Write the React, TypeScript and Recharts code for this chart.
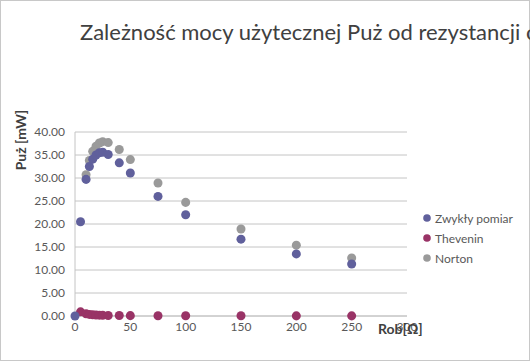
import React from "react";
import { ScatterChart, Scatter, XAxis, YAxis, CartesianGrid, ZAxis } from "recharts";

const resistance = [0, 5, 10, 13, 16, 19, 22, 25, 30, 40, 50, 75, 100, 150, 200, 250];
const zwykly = [0, 20.5, 29.7, 32.5, 34.1, 35.0, 35.5, 35.6, 35.1, 33.3, 31.1, 26.0, 22.0, 16.7, 13.5, 11.3];
const thevenin = [null, 0.9, 0.5, 0.35, 0.25, 0.2, 0.18, 0.15, 0.12, 0.1, 0.08, 0.06, 0.05, 0.04, 0.03, 0.03];
const norton = [null, null, 30.7, 33.8, 35.8, 36.9, 37.6, 37.9, 37.7, 36.2, 34.0, 28.9, 24.7, 18.9, 15.4, 12.6];

const yTicks = [0, 5, 10, 15, 20, 25, 30, 35, 40];
const xTicks = [0, 50, 100, 150, 200, 250, 300];

const seriesNames = ["Zwykły pomiar", "Thevenin", "Norton"];
const seriesColors = ["#60609c", "#993366", "#9a9a9a"];

const toPoints = (vals: (number | null)[]) =>
  resistance
    .map((x, i) => ({ x, y: vals[i] }))
    .filter((p) => p.y !== null);

const zwyklyData = toPoints(zwykly);
const theveninData = toPoints(thevenin);
const nortonData = toPoints(norton);

const font = "Lato, 'Open Sans', sans-serif";

export default function App() {
  return (
    <div
      style={{
        position: "absolute",
        left: 0,
        top: 0,
        width: 530,
        height: 361,
        overflow: "hidden",
        background: "#fff",
      }}
    >
      <div
        style={{
          position: "absolute",
          left: 0,
          top: 0,
          width: 528,
          height: 359,
          border: "1px solid #c8c8c8",
        }}
      />
      <div
        style={{
          position: "absolute",
          left: 80,
          top: 18,
          whiteSpace: "nowrap",
          fontFamily: font,
          fontSize: 22,
          color: "#404040",
        }}
      >
        Zależność mocy użytecznej Puż od rezystancji obciążenia
      </div>
      <div
        style={{
          position: "absolute",
          left: 20,
          top: 140,
          transform: "translate(-50%, -50%) rotate(-90deg)",
          whiteSpace: "nowrap",
          fontFamily: font,
          fontSize: 14,
          fontWeight: "bold",
          color: "#404040",
        }}
      >
        Puż [mW]
      </div>
      <ScatterChart
        width={530}
        height={361}
        margin={{ top: 132, right: 123, left: 0, bottom: 0 }}
        style={{ position: "absolute", left: 0, top: 0 }}
      >
        <CartesianGrid vertical={false} stroke="#c4c4c4" />
        <XAxis
          type="number"
          dataKey="x"
          domain={[0, 300]}
          ticks={xTicks}
          height={45}
          tickLine={false}
          axisLine={{ stroke: "#c4c4c4" }}
          tick={{ fill: "#595959", fontSize: 12, fontFamily: font }}
          tickMargin={0}
          interval={0}
        />
        <YAxis
          type="number"
          dataKey="y"
          domain={[0, 40]}
          ticks={yTicks}
          width={75}
          tickLine={false}
          axisLine={{ stroke: "#c4c4c4" }}
          tick={{ fill: "#595959", fontSize: 12, fontFamily: font }}
          tickFormatter={(v: number) => v.toFixed(2)}
          tickMargin={4}
          interval={0}
        />
        <ZAxis range={[55, 55]} />
        <Scatter name="Norton" data={nortonData} fill={seriesColors[2]} isAnimationActive={false} />
        <Scatter name="Thevenin" data={theveninData} fill={seriesColors[1]} isAnimationActive={false} />
        <Scatter name="Zwykły pomiar" data={zwyklyData} fill={seriesColors[0]} isAnimationActive={false} />
      </ScatterChart>
      <div
        style={{
          position: "absolute",
          left: 422,
          top: 208,
          fontFamily: font,
          fontSize: 12,
          color: "#595959",
        }}
      >
        {seriesNames.map((n, i) => (
          <div key={n} style={{ display: "flex", alignItems: "center", height: 20 }}>
            <svg width={10} height={10} style={{ marginRight: 3 }}>
              <circle cx={5} cy={5} r={3.8} fill={seriesColors[i]} />
            </svg>
            <span>{n}</span>
          </div>
        ))}
      </div>
      <div
        style={{
          position: "absolute",
          left: 378,
          top: 320,
          whiteSpace: "nowrap",
          fontFamily: font,
          fontSize: 14,
          fontWeight: "bold",
          color: "#404040",
        }}
      >
        Rob[Ω]
      </div>
    </div>
  );
}
